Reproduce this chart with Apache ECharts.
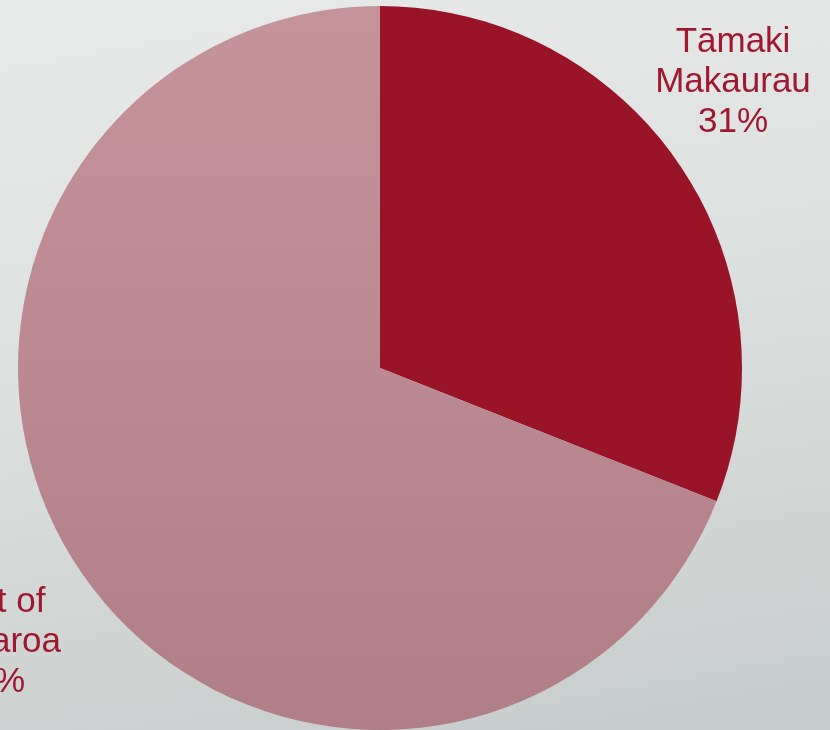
<!DOCTYPE html>
<html>
<head>
<meta charset="utf-8">
<script src="https://cdn.jsdelivr.net/npm/echarts@6/dist/echarts.min.js"></script>
<style>
  html, body { margin: 0; padding: 0; }
  #chart {
    width: 830px; height: 730px;
    background: linear-gradient(170deg, #e7eae8 0%, #dce0df 45%, #c6cccb 100%);
  }
</style>
</head>
<body>
<div id="chart"></div>
<script>
// 数据
var regions = ['Tāmaki\nMakaurau', 'Rest of\nAotearoa'];
var shares = [31, 69];

// 标签位置
var labelPos = [
  { x: 733, y: 82 },
  { x: -10, y: 642 }
];

var sliceColors = [
  '#9a1428',
  new echarts.graphic.LinearGradient(0, 0, 0, 1, [
    { offset: 0, color: '#c5949b' },
    { offset: 1, color: '#b07e87' }
  ])
];

var myChart = echarts.init(document.getElementById('chart'));

var option = {
  backgroundColor: 'transparent',
  animation: false,
  series: [{
    type: 'pie',
    center: [380, 368],
    radius: 362,
    startAngle: 90,
    clockwise: true,
    silent: true,
    avoidLabelOverlap: false,
    data: regions.map(function (name, i) {
      return {
        name: name,
        value: shares[i],
        itemStyle: { color: sliceColors[i] }
      };
    }),
    label: {
      show: true,
      position: 'outside',
      formatter: function (p) { return p.name + '\n' + p.value + '%'; },
      color: '#a01830',
      fontFamily: 'Liberation Sans, Arial, sans-serif',
      fontSize: 35,
      lineHeight: 40,
      align: 'center',
      overflow: 'none',
      width: 300
    },
    labelLine: { show: false },
    labelLayout: function (params) {
      var pos = labelPos[params.dataIndex];
      return { x: pos.x, y: pos.y, align: 'center', verticalAlign: 'middle', hideOverlap: false };
    }
  }]
};

myChart.setOption(option);
</script>
</body>
</html>
